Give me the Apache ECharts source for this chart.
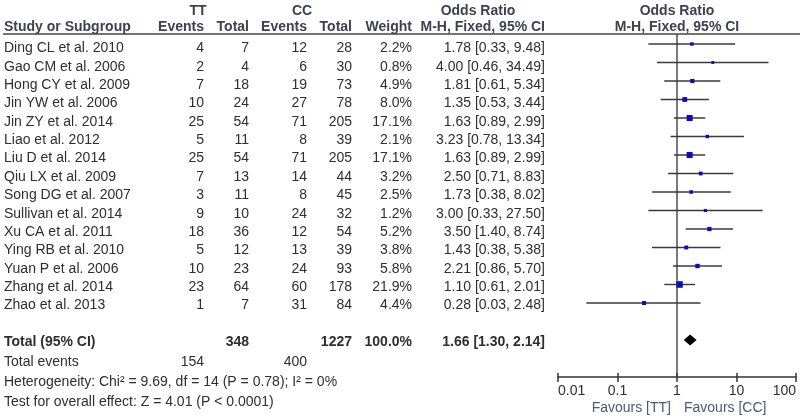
<!DOCTYPE html>
<html><head><meta charset="utf-8">
<script src="https://cdn.jsdelivr.net/npm/echarts@6/dist/echarts.min.js"></script>
<style>html,body{margin:0;padding:0;background:#fff}#c{width:800px;height:420px}</style>
</head><body><div id="c"></div>
<script>
const studies = ["Ding CL et al. 2010","Gao CM et al. 2006","Hong CY et al. 2009","Jin YW et al. 2006","Jin ZY et al. 2014","Liao et al. 2012","Liu D et al. 2014","Qiu LX et al. 2009","Song DG et al. 2007","Sullivan et al. 2014","Xu CA et al. 2011","Ying RB et al. 2010","Yuan P et al. 2006","Zhang et al. 2014","Zhao et al. 2013"];
const ttEvents = [4,2,7,10,25,5,25,7,3,9,18,5,10,23,1];
const ttTotal  = [7,4,18,24,54,11,54,13,11,10,36,12,23,64,7];
const ccEvents = [12,6,19,27,71,8,71,14,8,24,12,13,24,60,31];
const ccTotal  = [28,30,73,78,205,39,205,44,45,32,54,39,93,178,84];
const weights  = [2.2,0.8,4.9,8.0,17.1,2.1,17.1,3.2,2.5,1.2,5.2,3.8,5.8,21.9,4.4];
const oddsRatio = [1.78,4.00,1.81,1.35,1.63,3.23,1.63,2.50,1.73,3.00,3.50,1.43,2.21,1.10,0.28];
const ciLow  = [0.33,0.46,0.61,0.53,0.89,0.78,0.89,0.71,0.38,0.33,1.40,0.38,0.86,0.61,0.03];
const ciHigh = [9.48,34.49,5.34,3.44,2.99,13.34,2.99,8.83,8.02,27.50,8.74,5.38,5.70,2.01,2.48];
const totalTT = 348, totalCC = 1227, totalWeight = 100.0;
const pooledOR = 1.66, pooledLow = 1.30, pooledHigh = 2.14;
const eventsTT = 154, eventsCC = 400;
const heterogeneityText = "Heterogeneity: Chi\u00B2 = 9.69, df = 14 (P = 0.78); I\u00B2 = 0%";
const overallText = "Test for overall effect: Z = 4.01 (P < 0.0001)";
const axisTicks = [0.01, 0.1, 1, 10, 100];
const nullEffect = 1;

const FONT = "'Liberation Sans', Arial, sans-serif";
const TXT = '#2e2e2e';
const HDR = '#3b4250';
const f2 = v => v.toFixed(2);

// plot-area layout
const G = {left:558, right:4, top:34, bottom:43, W:800, H:420};

// column right edges (layout)
const COL = {name:4, ttE:204, ttT:249, ccE:307, ccT:352, w:412, or:545};
const items = [];
function add(x, y, t, align, bold, color){ items.push({x, y, t:String(t), a:align||'right', b:!!bold, c:color||TXT}); }
studies.forEach((s,i)=>{
  add(COL.name, i, s, 'left');
  add(COL.ttE, i, ttEvents[i]);
  add(COL.ttT, i, ttTotal[i]);
  add(COL.ccE, i, ccEvents[i]);
  add(COL.ccT, i, ccTotal[i]);
  add(COL.w, i, weights[i].toFixed(1)+'%');
  add(COL.or, i, f2(oddsRatio[i])+' ['+f2(ciLow[i])+', '+f2(ciHigh[i])+']');
});
const TR = 16;
add(COL.name, TR, 'Total (95% CI)', 'left', true);
add(COL.ttT, TR, totalTT, 'right', true);
add(COL.ccT, TR, totalCC, 'right', true);
add(COL.w, TR, totalWeight.toFixed(1)+'%', 'right', true);
add(COL.or, TR, f2(pooledOR)+' ['+f2(pooledLow)+', '+f2(pooledHigh)+']', 'right', true);
add(COL.name, 17.1, 'Total events', 'left');
add(COL.ttE, 17.1, eventsTT);
add(COL.ccE, 17.1, eventsCC);
add(COL.name, 18.2, heterogeneityText, 'left');
add(COL.name, 19.25, overallText, 'left');
// headers
add(198, -2.04, 'TT', 'center', true, HDR);
add(302, -2.04, 'CC', 'center', true, HDR);
add(478, -2.04, 'Odds Ratio', 'center', true, HDR);
add(COL.name, -1.18, 'Study or Subgroup', 'left', true, HDR);
add(COL.ttE, -1.18, 'Events', 'right', true, HDR);
add(COL.ttT, -1.18, 'Total', 'right', true, HDR);
add(COL.ccE, -1.18, 'Events', 'right', true, HDR);
add(COL.ccT, -1.18, 'Total', 'right', true, HDR);
add(COL.w, -1.18, 'Weight', 'right', true, HDR);
add(COL.or, -1.18, 'M-H, Fixed, 95% CI', 'right', true, HDR);
add(677, -2.04, 'Odds Ratio', 'center', true, HDR);
add(677, -1.18, 'M-H, Fixed, 95% CI', 'center', true, HDR);

const forestData = studies.map((s,i)=>[oddsRatio[i], i, ciLow[i], ciHigh[i], weights[i]]);
const maxW = Math.max(...weights);
const FY_MIN = -10/18.5, FY_MAX = 333/18.5;

// x pixel of the null-effect value on the log axis (from the axis range and the plot layout)
const lMin = Math.log10(axisTicks[0]), lMax = Math.log10(axisTicks[axisTicks.length-1]);
const plotW = G.W - G.left - G.right;
const xNull = G.left + plotW * (Math.log10(nullEffect) - lMin) / (lMax - lMin);
const yTopNull = G.top, yBotNull = G.H - G.bottom;

const chart = echarts.init(document.getElementById('c'), null, {renderer:'canvas'});
const logAxisBase = {
  gridIndex:1, type:'log', logBase:10, min:axisTicks[0], max:axisTicks[axisTicks.length-1],
  position:'bottom', offset:0, splitNumber:4,
  splitLine:{show:false}, minorTick:{show:false}
};
chart.setOption({
  animation:false,
  backgroundColor:'#fff',
  grid:[
    {left:0,right:0,top:0,bottom:0, containLabel:false, outerBoundsMode:'none'},
    {left:G.left,right:G.right,top:G.top,bottom:G.bottom, containLabel:false, outerBoundsMode:'none'}
  ],
  xAxis:[
    {gridIndex:0, type:'value', min:0, max:800, show:false},
    Object.assign({}, logAxisBase, {
      axisLine:{show:true, onZero:false, lineStyle:{color:'#333', width:1.5}},
      axisTick:{show:true, inside:false, length:5, lineStyle:{color:'#333', width:1.5}},
      axisLabel:{show:true, color:TXT, fontSize:14, fontFamily:FONT, margin:7,
        alignMinLabel:'left', alignMaxLabel:'right',
        formatter: v => String(+(+v).toPrecision(3))}
    }),
    Object.assign({}, logAxisBase, {
      axisLine:{show:false, onZero:false},
      axisTick:{show:true, inside:true, length:4, lineStyle:{color:'#333', width:1.5}},
      axisLabel:{show:false}
    })
  ],
  yAxis:[
    {gridIndex:0, type:'value', inverse:true, min:-48.5/18.35, max:(420-48.5)/18.35, show:false},
    {gridIndex:1, type:'value', inverse:true, min:FY_MIN, max:FY_MAX, show:false}
  ],
  graphic:{elements:[
    {type:'line', id:'hdrline', shape:{x1:3,y1:34,x2:800,y2:34}, style:{stroke:'#444', lineWidth:1.5}, z:100},
    {type:'line', id:'nullline', shape:{x1:xNull,y1:yTopNull,x2:xNull,y2:yBotNull}, style:{stroke:'#333', lineWidth:1.3}, z:100},
    {type:'text', id:'fav1', x:671, y:408, style:{text:'Favours [TT]', align:'right', verticalAlign:'middle', fontSize:14, fontFamily:FONT, fill:'#4a5878'}, z:100},
    {type:'text', id:'fav2', x:684, y:408, style:{text:'Favours [CC]', align:'left', verticalAlign:'middle', fontSize:14, fontFamily:FONT, fill:'#4a5878'}, z:100}
  ]},
  series:[
    {
      type:'custom', xAxisIndex:0, yAxisIndex:0, clip:false, silent:true,
      data: items.map(d=>[d.x, d.y]),
      encode:{x:0, y:1},
      renderItem:(params, api)=>{
        const d = items[params.dataIndex];
        const p = api.coord([api.value(0), api.value(1)]);
        return {type:'text', x:p[0], y:p[1], style:{text:d.t, align:d.a, verticalAlign:'middle',
          fontSize:14, fontFamily:FONT, fontWeight:d.b?'bold':'normal', fill:d.c}};
      }
    },
    {
      type:'custom', xAxisIndex:1, yAxisIndex:1, clip:false, silent:true, z:3,
      data: forestData,
      encode:{x:0, y:1},
      renderItem:(params, api)=>{
        const y = api.value(1);
        const pc = api.coord([api.value(0), y]);
        const pl = api.coord([api.value(2), y]);
        const ph = api.coord([api.value(3), y]);
        const s = 2 + 4.6*Math.sqrt(api.value(4)/maxW);
        return {type:'group', children:[
          {type:'line', shape:{x1:pl[0], y1:pl[1], x2:ph[0], y2:ph[1]}, style:{stroke:'#3a3a3a', lineWidth:1.4}},
          {type:'rect', shape:{x:pc[0]-s/2, y:pc[1]-s/2, width:s, height:s}, style:{fill:'#0a0ac4'}, z2:5}
        ]};
      }
    },
    {
      type:'custom', xAxisIndex:1, yAxisIndex:1, clip:false, silent:true, z:6,
      data:[[pooledOR, TR, pooledLow, pooledHigh]],
      encode:{x:0, y:1},
      renderItem:(params, api)=>{
        const y = api.value(1);
        const pc = api.coord([api.value(0), y]);
        const pl = api.coord([api.value(2), y]);
        const ph = api.coord([api.value(3), y]);
        const h = 5.5;
        return {type:'polygon', shape:{points:[[pl[0],pc[1]],[pc[0],pc[1]-h],[ph[0],pc[1]],[pc[0],pc[1]+h]]},
          style:{fill:'#000'}};
      }
    }
  ]
});
</script></body></html>
